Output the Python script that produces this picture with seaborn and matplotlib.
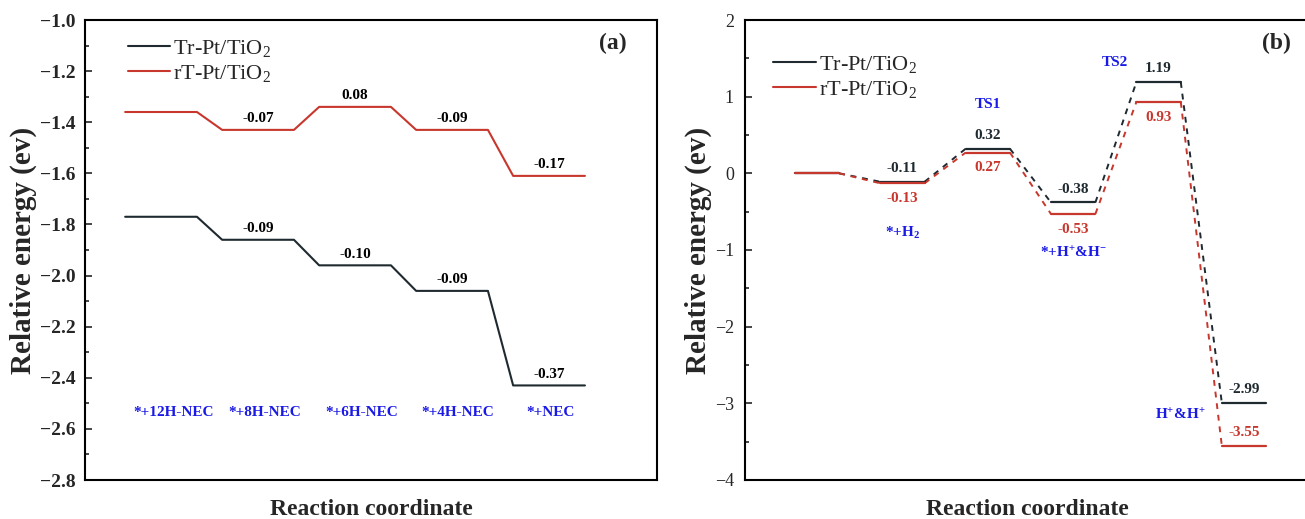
import numpy as np
import pandas as pd
import matplotlib
matplotlib.use('Agg')
import matplotlib.pyplot as plt
import seaborn as sns
from matplotlib.lines import Line2D
from matplotlib.ticker import MultipleLocator, FuncFormatter

# panel (a): stepwise dehydrogenation levels
steps_a = ['*+12H-NEC', '*+8H-NEC', '*+6H-NEC', '*+4H-NEC', '*+NEC']
tr_a = [-1.77, -1.86, -1.96, -2.06, -2.43]
rt_a = [-1.36, -1.43, -1.34, -1.43, -1.61]
tr_a_lbl = ['', '-0.09', '-0.10', '-0.09', '-0.37']
rt_a_lbl = ['', '-0.07', '0.08', '-0.09', '-0.17']

# panel (b): H2 dissociation path
tr_b = [0.0, -0.11, 0.32, -0.38, 1.19, -2.99]
rt_b = [0.0, -0.13, 0.27, -0.53, 0.93, -3.55]
steps_b = [r'*+H$_\mathbf{2}$', 'TS1', r'*+H$^\mathbf{+}$&H$^\mathbf{-}$', 'TS2', r'H$^\mathbf{+}$&H$^\mathbf{+}$']

series = ['Tr-Pt/TiO2', 'rT-Pt/TiO2']
legend_lbl = [r'Tr-Pt/TiO$_\mathrm{2}$', r'rT-Pt/TiO$_\mathrm{2}$']
c_black = '#1f2a30'
c_red = '#c8372d'
c_blue = '#1a1ae6'
palette = {series[0]: c_black, series[1]: c_red}

sns.set_theme(style='white')
plt.rcParams['font.family'] = ['Liberation Serif', 'DejaVu Serif']
plt.rcParams['mathtext.fontset'] = 'custom'
plt.rcParams['mathtext.rm'] = 'Liberation Serif'
plt.rcParams['mathtext.bf'] = 'Liberation Serif:bold'
plt.rcParams['mathtext.it'] = 'Liberation Serif:italic'


def level_table(vals, name, start, hw):
    rows = []
    for i, v in enumerate(vals):
        x = start + i
        rows.append({'x': x - hw, 'y': v, 'series': name, 'seg': i})
        rows.append({'x': x + hw, 'y': v, 'series': name, 'seg': i})
    return rows


def link_table(vals, name, start, hw):
    rows = []
    for i in range(len(vals) - 1):
        x = start + i
        rows.append({'x': x + hw, 'y': vals[i], 'series': name, 'seg': i})
        rows.append({'x': x + 1 - hw, 'y': vals[i + 1], 'series': name, 'seg': i})
    return rows


fig = plt.figure(figsize=(13.05, 5.19), dpi=100)
ax1 = fig.add_axes([85 / 1305, 39 / 519, 572 / 1305, 460 / 519])
ax2 = fig.add_axes([745 / 1305, 39 / 519, 565 / 1305, 460 / 519])

# ---- panel (a)
hw_a = 0.37
df_a = pd.DataFrame(level_table(tr_a, series[0], 1, hw_a) + level_table(rt_a, series[1], 1, hw_a))
sns.lineplot(data=df_a, x='x', y='y', hue='series', palette=palette, sort=False,
             estimator=None, lw=1.5, legend=False, ax=ax1)
shift_a = [0.13, 0.07, 0.07, 0.06, 0.02]
for i in range(5):
    for v, t in [(tr_a[i], tr_a_lbl[i]), (rt_a[i], rt_a_lbl[i])]:
        if t:
            ax1.annotate(t, (1 + i, v), xytext=(0, 8), textcoords='offset points',
                         ha='center', va='center', fontsize=11, fontweight='bold', color='black')
    ax1.text(1 + i + shift_a[i], -2.535, steps_a[i], ha='center', va='center',
             fontsize=11, fontweight='bold', color=c_blue)

ax1.set_xlim(0.216, 6.113)
ax1.set_ylim(-2.8, -1.0)
ax1.yaxis.set_major_locator(MultipleLocator(0.2))
ax1.yaxis.set_minor_locator(MultipleLocator(0.1))
ax1.yaxis.set_major_formatter(FuncFormatter(lambda v, p: f'{v:.1f}'.replace('-', '\u2212')))
ax1.tick_params(axis='y', which='both', direction='in', left=True, labelsize=14, pad=7)
ax1.tick_params(axis='y', which='major', length=5, width=1.2)
ax1.tick_params(axis='y', which='minor', length=3, width=1.2)
for lab in ax1.get_yticklabels():
    lab.set_fontweight('bold')
ax1.set_xticks([])
ax1.set_xlabel('Reaction coordinate', fontsize=17, fontweight='bold', labelpad=14)
ax1.set_ylabel('Relative energy (ev)', fontsize=21, fontweight='bold', labelpad=2)
ax1.text(0.923, 0.95, '(a)', transform=ax1.transAxes, ha='center', va='center',
         fontsize=17, fontweight='bold')

# ---- panel (b)
hw_b = 0.26
lv_b = pd.DataFrame(level_table(tr_b, series[0], 0, hw_b) + level_table(rt_b, series[1], 0, hw_b))
lk_b = pd.DataFrame(link_table(tr_b, series[0], 0, hw_b) + link_table(rt_b, series[1], 0, hw_b))
sns.lineplot(data=lk_b, x='x', y='y', hue='series', units='seg', palette=palette, sort=False,
             estimator=None, lw=1.4, linestyle=(0, (3, 3)), legend=False, ax=ax2)
sns.lineplot(data=lv_b, x='x', y='y', hue='series', units='seg', palette=palette, sort=False,
             estimator=None, lw=1.6, legend=False, ax=ax2)

for i in range(1, 6):
    ax2.annotate(f'{tr_b[i]:.2f}', (i, tr_b[i]), xytext=(0, 9.5), textcoords='offset points',
                 ha='center', va='center', fontsize=11, fontweight='bold', color=c_black)
    off = 9 if i == 5 else -11
    ax2.annotate(f'{rt_b[i]:.2f}', (i, rt_b[i]), xytext=(0, off), textcoords='offset points',
                 ha='center', va='center', fontsize=11, fontweight='bold', color=c_red)

blue_pos = [(1.0, -0.78), (2.0, 0.9), (3.0, -1.04), (3.49, 1.44), (4.25, -3.15)]
for (bx, by), t in zip(blue_pos, steps_b):
    ax2.text(bx, by, t, ha='center', va='center', fontsize=11, fontweight='bold', color=c_blue)

ax2.set_xlim(-0.843, 5.773)
ax2.set_ylim(-4, 2)
ax2.yaxis.set_major_locator(MultipleLocator(1))
ax2.yaxis.set_minor_locator(MultipleLocator(0.5))
ax2.yaxis.set_major_formatter(FuncFormatter(lambda v, p: f'{v:.0f}'.replace('-', '\u2212')))
ax2.tick_params(axis='y', which='both', direction='in', left=True, labelsize=13, pad=8)
ax2.tick_params(axis='y', which='major', length=5, width=1.2)
ax2.tick_params(axis='y', which='minor', length=3, width=1.2)
ax2.set_xticks([])
ax2.set_xlabel('Reaction coordinate', fontsize=17, fontweight='bold', labelpad=14)
ax2.set_ylabel('Relative energy (ev)', fontsize=21, fontweight='bold', labelpad=2)
ax2.text(0.94, 0.95, '(b)', transform=ax2.transAxes, ha='center', va='center',
         fontsize=17, fontweight='bold')

for ax in (ax1, ax2):
    for sp in ax.spines.values():
        sp.set_visible(True)
        sp.set_color('black')
        sp.set_linewidth(1.5)

handles = [Line2D([], [], color=c_black, lw=1.5), Line2D([], [], color=c_red, lw=1.5)]
ax1.legend(handles, legend_lbl, loc='upper left', bbox_to_anchor=(0.04, 1.005), frameon=False,
           fontsize=16, handlelength=1.9, handletextpad=0.15, labelspacing=0.2)
ax2.legend(handles, legend_lbl, loc='upper left', bbox_to_anchor=(0.015, 0.97), frameon=False,
           fontsize=16, handlelength=1.9, handletextpad=0.15, labelspacing=0.2)

fig.savefig('out.png', dpi=100)
